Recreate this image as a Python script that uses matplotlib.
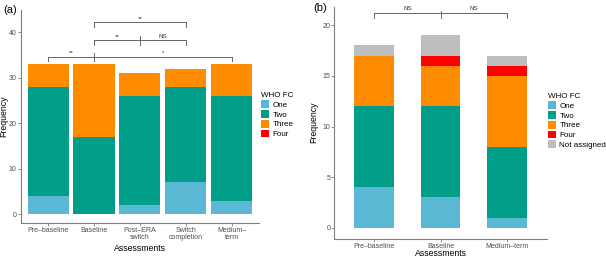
import matplotlib
matplotlib.use("Agg")
import matplotlib.pyplot as plt
from matplotlib.patches import Patch
import numpy as np

plt.rcParams['font.family'] = ['Liberation Sans', 'DejaVu Sans']

# ---------------- data ----------------
cats_a = ["Pre\u2013baseline", "Baseline", "Post\u2013ERA\nswitch", "Switch\ncompletion", "Medium\u2013\nterm"]
one_a = [4, 0, 2, 7, 3]
two_a = [24, 17, 24, 21, 23]
three_a = [5, 16, 5, 4, 7]
four_a = [0, 0, 0, 0, 0]

cats_b = ["Pre\u2013baseline", "Baseline", "Medium\u2013term"]
one_b = [4, 3, 1]
two_b = [8, 9, 7]
three_b = [5, 4, 7]
four_b = [0, 1, 1]
na_b = [1, 2, 1]

levels_a = ["One", "Two", "Three", "Four"]
levels_b = ["One", "Two", "Three", "Four", "Not assigned"]
colors = {"One": "#5BB8D5", "Two": "#009E88", "Three": "#FF8C00", "Four": "#FF0000", "Not assigned": "#BEBEBE"}

# significance brackets: (x positions with ticks, y level, labels at centres)
brackets_a = [
    ([2, 4], 42.2, [(3, "**")]),
    ([2, 3, 4], 38.2, [(2.5, "**"), (3.5, "NS")]),
    ([1, 2, 5], 34.6, [(1.5, "**"), (3.5, "*")]),
]
brackets_b = [
    ([1, 2, 3], 21.2, [(1.5, "NS"), (2.5, "NS")]),
]

W, H = 606, 258
fig = plt.figure(figsize=(W / 100, H / 100), dpi=100)

grey = "#7f7f7f"
tick_col = "#4d4d4d"


def style(ax, ylab_x, xlab_y):
    for s in ["top", "right"]:
        ax.spines[s].set_visible(False)
    for s in ["left", "bottom"]:
        ax.spines[s].set_color(grey)
        ax.spines[s].set_linewidth(0.8)
    ax.tick_params(colors=grey, labelcolor=tick_col, labelsize=5.0, length=2, width=0.6, pad=1.0)
    ax.set_xlabel("Assessments", fontsize=6.3)
    ax.set_ylabel("Frequency", fontsize=6.3)
    ax.yaxis.set_label_coords(ylab_x, 0.5)
    ax.xaxis.set_label_coords(0.5, xlab_y)


def stack(ax, x, series, names, width):
    bottom = np.zeros(len(x))
    for vals, name in zip(series, names):
        vals = np.array(vals, dtype=float)
        ax.bar(x, vals, bottom=bottom, width=width, color=colors[name], linewidth=0)
        bottom += vals


def draw_brackets(ax, brackets, drop, rise, fs):
    for xs, y, labels in brackets:
        ax.plot([xs[0], xs[-1]], [y, y], color="#666666", lw=0.7)
        for i, xx in enumerate(xs):
            up = rise if 0 < i < len(xs) - 1 else 0
            ax.plot([xx, xx], [y - drop, y + up], color="#666666", lw=0.7)
        for xc, t in labels:
            ax.text(xc, y + drop * 0.35, t, ha="center", va="bottom", fontsize=fs, color="#333333")


# ---------- panel (a) ----------
axa = fig.add_axes([20.7 / W, 1 - 223 / H, (259 - 20.7) / W, (223 - 10) / H])
xa = np.arange(1, len(cats_a) + 1)
stack(axa, xa, [one_a, two_a, three_a, four_a], levels_a, 0.9)
axa.set_xlim(0.4, 5.6)
axa.set_ylim(-1.9, 44.9)
axa.set_yticks([0, 10, 20, 30, 40])
axa.set_xticks(xa)
axa.set_xticklabels(cats_a, linespacing=0.95)
style(axa, -0.052, -0.097)
draw_brackets(axa, brackets_a, 1.0, 0.9, 4.5)

# ---------- panel (b) ----------
axb = fig.add_axes([334.3 / W, 1 - 238.5 / H, (546.7 - 334.3) / W, (238.5 - 7) / H])
xb = np.arange(1, len(cats_b) + 1)
stack(axb, xb, [one_b, two_b, three_b, four_b, na_b], levels_b, 0.6)
axb.set_xlim(0.4, 3.6)
axb.set_ylim(-1.05, 21.8)
axb.set_yticks([0, 5, 10, 15, 20])
axb.set_xticks(xb)
axb.set_xticklabels(cats_b)
style(axb, -0.075, -0.047)
draw_brackets(axb, brackets_b, 0.45, 0.2, 4.5)

# legends
def legend(levels, x, y):
    handles = [Patch(facecolor=colors[l], edgecolor="none", label=l) for l in levels]
    lg = fig.legend(handles=handles, loc="upper left", bbox_to_anchor=(x, y), frameon=False,
                    title="WHO FC", fontsize=5.8, title_fontsize=5.8, handlelength=1.0,
                    handleheight=1.1, handletextpad=0.4, labelspacing=0.15, borderpad=0,
                    borderaxespad=0)
    lg._legend_box.align = "left"


legend(levels_a, 261 / W, 1 - 92 / H)
legend(levels_b, 548 / W, 1 - 93 / H)

fig.text(3 / W, 1 - 10 / H, "(a)", fontsize=8, va="center", ha="left")
fig.text(313 / W, 1 - 8 / H, "(b)", fontsize=8, va="center", ha="left")

fig.savefig("out.png", dpi=100)
